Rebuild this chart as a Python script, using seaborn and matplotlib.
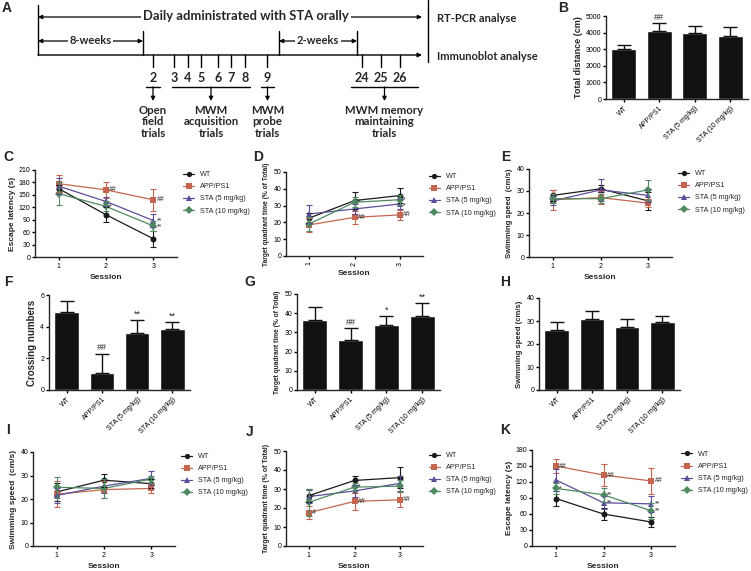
import numpy as np
import pandas as pd
import seaborn as sns
import matplotlib.pyplot as plt
from matplotlib.lines import Line2D

W, H = 751, 571

groups = ['WT', 'APP/PS1', 'STA (5 mg/kg)', 'STA (10 mg/kg)']
sessions = [1, 2, 3]
colors = ['#1a1a1a', '#c4654f', '#5b4d98', '#4f8a60']
marks = ['o', 's', '^', 'D']

# B: open field, total distance
b_mean = [3000, 4100, 3980, 3820]
b_err = [250, 480, 420, 520]
b_sig = ['', '##', '', '']

# C: escape latency (acquisition)
c_mean = [[165, 102, 44], [177, 162, 138], [171, 134, 88], [153, 122, 75]]
c_err = [[8, 18, 19], [20, 19, 27], [20, 10, 15], [27, 12, 12]]
c_sig = [['', '', ''], ['', '##', '##'], ['', '', '**'], ['', '*', '**']]

# D: target quadrant time (acquisition)
d_mean = [[22.5, 33, 36], [18.5, 23, 24.5], [25, 28, 31], [19, 32, 33.5]]
d_err = [[3, 5, 4.5], [4, 4, 3], [5.5, 3, 3], [4, 3, 3]]
d_sig = [['', '', ''], ['', '##', '##'], ['', '', '*'], ['', '*', '*']]

# E: swimming speed (acquisition)
e_mean = [[28, 31, 25.5], [26, 27, 24.5], [25.5, 30.5, 28], [26.5, 26.5, 30.5]]
e_err = [[2.5, 1.5, 4], [4.5, 3, 2], [2, 5, 3], [2, 2, 4.5]]

# F-H: probe trial
f_mean = [4.9, 1.1, 3.6, 3.85]
f_err = [0.7, 1.2, 0.8, 0.45]
f_sig = ['', '##', '**', '**']
g_mean = [36.5, 26.2, 33.8, 38.7]
g_err = [6.5, 6, 5, 6.5]
g_sig = ['', '##', '*', '**']
h_mean = [26, 31, 27.5, 29.5]
h_err = [3.5, 3.2, 3.2, 2.7]

# I: swimming speed (memory maintaining)
i_mean = [[23, 28, 26.5], [22, 24, 24.5], [21.5, 25.5, 28.8], [25, 24.5, 28.5]]
i_err = [[4, 2.7, 2], [5.5, 3.5, 2], [3, 3, 3], [4.5, 4, 1.5]]

# J: target quadrant time (memory maintaining)
j_mean = [[26.5, 34.5, 36], [17.5, 23.5, 24.3], [26, 29, 33], [23, 31, 31.5]]
j_err = [[3.5, 2.5, 5.5], [3.5, 4.5, 4], [3.5, 3, 4], [7, 2, 3]]
j_sig = [['', '', ''], ['#', '##', '##'], ['*', '', ''], ['', '*', '']]

# K: escape latency (memory maintaining)
k_mean = [[89, 60, 45], [150, 133, 122], [124, 81, 79], [108, 96, 66]]
k_err = [[14, 11, 9], [13, 20, 24], [20, 12, 15], [10, 13, 15]]
k_sig = [['', '', ''], ['##', '##', '##'], ['', '**', '**'], ['*', '**', '**']]

# timeline (panel A)
days = ['2', '3', '4', '5', '6', '7', '8', '9', '24', '25', '26']
day_x = [153, 174, 188, 201, 218, 231, 245, 267, 362, 381, 400]
stages = ['Open\nfield\ntrials', 'MWM\nacquisition\ntrials', 'MWM\nprobe\ntrials',
          'MWM memory\nmaintaining\ntrials']
stage_span = [(146, 160), (172, 250), (261, 274), (351, 418)]

sns.set_style('ticks')
plt.rcParams['font.family'] = ['Liberation Sans', 'DejaVu Sans']
plt.rcParams['axes.linewidth'] = 1.0
plt.rcParams['xtick.major.width'] = 1.0
plt.rcParams['ytick.major.width'] = 1.0
plt.rcParams['xtick.major.size'] = 2.5
plt.rcParams['ytick.major.size'] = 2.5
plt.rcParams['xtick.major.pad'] = 1.5
plt.rcParams['ytick.major.pad'] = 1.0

fig = plt.figure(figsize=(W / 100, H / 100), dpi=100)


def add_ax(x0, y0, x1, y1):
    return fig.add_axes([x0 / W, 1 - y1 / H, (x1 - x0) / W, (y1 - y0) / H])


def finish(ax, top, step, ylabel, ylsize=6):
    sns.despine(ax=ax)
    ax.set_ylim(0, top)
    ax.set_yticks(np.arange(0, top + 1, step))
    ax.tick_params(labelsize=5, colors='black')
    ax.set_ylabel(ylabel, fontsize=ylsize, fontweight='bold', labelpad=2)


def bar_panel(box, mean, err, sig, top, step, ylabel, ylsize=6):
    ax = add_ax(*box)
    sns.barplot(x=groups, y=mean, color='#111111', width=0.7, errorbar=None, ax=ax)
    ax.errorbar(range(4), mean, yerr=[np.zeros(4), err], fmt='none', ecolor='#111111',
                elinewidth=1.0, capsize=5, capthick=1.0)
    for i, (m, e, s) in enumerate(zip(mean, err, sig)):
        if s:
            ax.text(i, m + e + top * 0.012, s, ha='center', va='bottom', fontsize=6.5)
    finish(ax, top, step, ylabel, ylsize)
    ax.set_xlim(-0.5, 3.5)
    ax.set_xticks(range(4))
    ax.set_xticklabels(groups, rotation=45, ha='right', rotation_mode='anchor', fontsize=5)
    ax.set_xlabel('')
    return ax


def line_panel(box, mean, err, sig, top, step, ylabel, ylsize=6, rot=0):
    ax = add_ax(*box)
    df = pd.DataFrame([(g, s, v) for g, row in zip(groups, mean) for s, v in zip(sessions, row)],
                      columns=['group', 'session', 'value'])
    sns.lineplot(data=df, x='session', y='value', hue='group', style='group',
                 palette=dict(zip(groups, colors)), markers=dict(zip(groups, marks)),
                 dashes=False, errorbar=None, legend=False, ax=ax,
                 linewidth=0.9, markersize=4.3, markeredgewidth=0)
    for row, erow, c in zip(mean, err, colors):
        ax.errorbar(sessions, row, yerr=erow, fmt='none', ecolor=c, elinewidth=0.8,
                    capsize=2.5, capthick=0.8)
    if sig is not None:
        # keep stacked significance marks from running into each other
        gap = 6.5 * top / (box[3] - box[1])
        for k, s in enumerate(sessions):
            items = sorted([(row[k], srow[k]) for row, srow in zip(mean, sig) if srow[k]], reverse=True)
            prev = None
            for v, t in items:
                y = v if prev is None else min(v, prev - gap)
                ax.text(s + 0.07, y, t, ha='left', va='center', fontsize=5)
                prev = y
    finish(ax, top, step, ylabel, ylsize)
    ax.set_xlim(0.5, 3.5)
    ax.set_xticks(sessions)
    ax.set_xticklabels([str(s) for s in sessions], rotation=rot)
    ax.set_xlabel('Session', fontsize=6, fontweight='bold', labelpad=3)
    handles = [Line2D([], [], color=c, marker=m, markersize=3.8, lw=0.9, markeredgewidth=0)
               for c, m in zip(colors, marks)]
    ax.legend(handles, groups, loc='upper left', bbox_to_anchor=(1.02, 1.02), frameon=False,
              fontsize=5.2, handlelength=1.6, labelspacing=0.7, borderaxespad=0)
    return ax


# ---- panel A: timeline ----
ta = add_ax(0, 0, 520, 150)
ta.set_xlim(0, 520)
ta.set_ylim(150, 0)
ta.axis('off')
tk = dict(color='black', lw=1.0)
arr = dict(arrowstyle='<|-|>', color='black', lw=0.9, mutation_scale=6, shrinkA=0, shrinkB=0)
ta.plot([38, 38], [5, 55], **tk)
ta.plot([428, 428], [0, 62], **tk)
ta.annotate('', xy=(422, 17), xytext=(38, 17), arrowprops=arr)
ta.text(246, 16, 'Daily administrated with STA orally', ha='center', va='center',
        fontsize=9.4, fontweight='bold', family='Lato',
        bbox=dict(facecolor='white', edgecolor='none', pad=1.5))
ta.text(437, 18, 'RT-PCR analyse', ha='left', va='center', fontsize=8, fontweight='bold', family='Lato')
ta.text(437, 57, 'Immunoblot analyse', ha='left', va='center', fontsize=8, fontweight='bold', family='Lato')
for xa, xb, lab in [(38, 143, '8-weeks'), (279, 357, '2-weeks')]:
    ta.annotate('', xy=(xb, 41), xytext=(xa, 41), arrowprops=arr)
    ta.text((xa + xb) / 2, 40, lab, ha='center', va='center', fontsize=8, fontweight='bold',
            family='Lato', bbox=dict(facecolor='white', edgecolor='none', pad=1.2))
for xv in [143, 279, 357]:
    ta.plot([xv, xv], [31, 55], **tk)
ta.annotate('', xy=(422, 55), xytext=(38, 55),
            arrowprops=dict(arrowstyle='-|>', color='black', lw=1.0, mutation_scale=6,
                            shrinkA=0, shrinkB=0))
for d, xv in zip(days, day_x):
    ta.plot([xv, xv], [55, 67], **tk)
    ta.text(xv, 78, d, ha='center', va='center', fontsize=9, fontweight='bold', family='Lato')
for lab, (xa, xb) in zip(stages, stage_span):
    xm = (xa + xb) / 2
    ta.plot([xa, xb], [87, 87], **tk)
    ta.annotate('', xy=(xm, 101), xytext=(xm, 87),
                arrowprops=dict(arrowstyle='-|>', color='black', lw=0.9, mutation_scale=6,
                                shrinkA=0, shrinkB=0))
    ta.text(xm, 105, lab, ha='center', va='top', fontsize=8.2, fontweight='bold',
            family='Lato', linespacing=1.05)

# ---- panels ----
bar_panel((606, 16, 748, 99), b_mean, b_err, b_sig, 5000, 1000, 'Total distance (cm)', 6.5)
line_panel((35, 170, 177, 257), c_mean, c_err, c_sig, 210, 30, 'Escape latency (s)')
line_panel((286, 172, 423, 256), d_mean, d_err, d_sig, 50, 10, 'Target quadrant time (% of Total)', 4.8, rot=90)
line_panel((529, 169, 672, 257), e_mean, e_err, None, 40, 10, 'Swimming speed  (cm/s)', 5.5)
bar_panel((49, 295, 190, 390), f_mean, f_err, f_sig, 6, 2, 'Crossing numbers', 7)
bar_panel((297, 294, 440, 390), g_mean, g_err, g_sig, 50, 10, 'Target quadrant time (% of Total)', 4.8)
bar_panel((539, 298, 680, 390), h_mean, h_err, ['', '', '', ''], 40, 10, 'Swimming speed (cm/s)', 5.5)
line_panel((33, 452, 175, 546), i_mean, i_err, None, 40, 10, 'Swimming speed  (cm/s)', 6)
line_panel((286, 451, 423, 546), j_mean, j_err, j_sig, 50, 10, 'Target quadrant time (% of Total)', 5)
line_panel((532, 450, 675, 546), k_mean, k_err, k_sig, 180, 30, 'Escape latency (s)')

for lab, x, y in [('A', 7, 8), ('B', 563, 8), ('C', 8, 157), ('D', 258, 157), ('E', 506, 157),
                  ('F', 8, 282), ('G', 250, 282), ('H', 505, 282),
                  ('I', 8, 430), ('J', 250, 432), ('K', 505, 430)]:
    fig.text(x / W, 1 - y / H, lab, ha='center', va='center', fontsize=10, fontweight='bold')

fig.savefig('out.png', dpi=100)
